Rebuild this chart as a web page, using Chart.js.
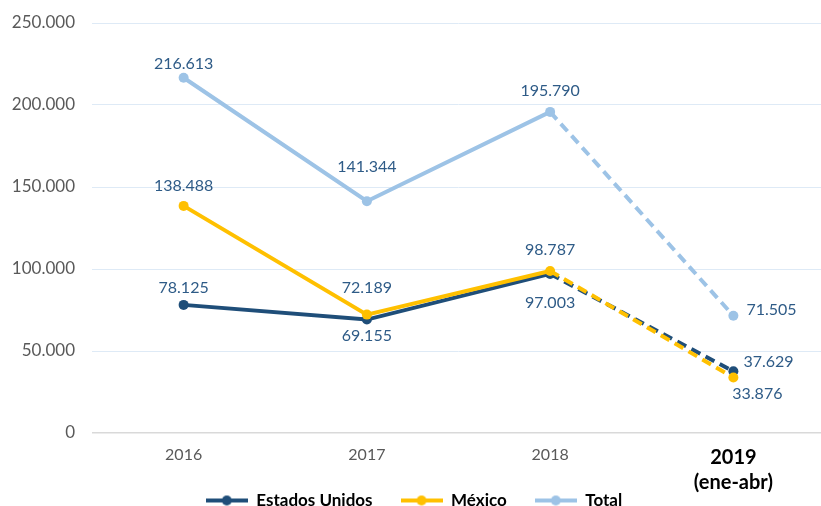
<!DOCTYPE html>
<html>
<head>
<meta charset="utf-8">
<script src="https://cdn.jsdelivr.net/npm/chart.js@4"></script>
<style>
  html, body { margin: 0; padding: 0; background: #fff; overflow: hidden; }
  #wrap { width: 830px; height: 506px; position: relative; }
</style>
</head>
<body>
<div id="wrap"><canvas id="c"></canvas></div>
<script>
// ---- data ----
const years = ['2016', '2017', '2018', ['2019', '(ene-abr)']];
const estadosUnidos = [78125, 69155, 97003, 37629];
const mexico = [138488, 72189, 98787, 33876];
const total = [216613, 141344, 195790, 71505];
const yTicks = [0, 50000, 100000, 150000, 200000, 250000];
const seriesNames = ['Estados Unidos', 'México', 'Total'];

// ---- styling ----
const colors = ['#1f4e79', '#ffc000', '#9dc3e6'];
const drawOrder = [1, 0, 2];
const labelOffsets = [
  [[0, -17, 'center'], [0, 16, 'center'], [0, 29, 'center'], [10, -9, 'left']],
  [[0, -20, 'center'], [0, -27, 'center'], [0, -21, 'center'], [24, 16, 'center']],
  [[0, -14, 'center'], [0, -34, 'center'], [0, -21, 'center'], [13, -6, 'left']]
];
const FONT = 'Lato, "Open Sans", sans-serif';

const fmt = v => String(Math.round(v)).replace(/\B(?=(\d{3})+(?!\d))/g, '.');

function legendIcon(color) {
  const c = document.createElement('canvas');
  c.width = 42; c.height = 12;
  const x = c.getContext('2d');
  x.strokeStyle = color; x.lineWidth = 4; x.lineCap = 'butt';
  x.beginPath(); x.moveTo(0, 6); x.lineTo(42, 6); x.stroke();
  x.fillStyle = color;
  x.beginPath(); x.arc(21, 6, 5, 0, Math.PI * 2); x.fill();
  return c;
}
const icons = colors.map(legendIcon);

const valueLabels = {
  id: 'valueLabels',
  afterDatasetsDraw(chart) {
    const ctx = chart.ctx;
    ctx.save();
    ctx.font = '16px ' + FONT;
    ctx.fillStyle = '#2e5b87';
    ctx.textBaseline = 'middle';
    chart.data.datasets.forEach((ds, di) => {
      const meta = chart.getDatasetMeta(di);
      meta.data.forEach((pt, i) => {
        const [dx, dy, align] = labelOffsets[di][i];
        ctx.textAlign = align;
        ctx.fillText(fmt(ds.data[i]), pt.x + dx, pt.y + dy);
      });
    });
    ctx.restore();
  }
};

const dashed = ctx => ctx.p0DataIndex === 2 ? [10, 6] : undefined;
const makeDs = (label, data, color, order) => ({
  label, data, order,
  borderColor: color, backgroundColor: color,
  borderWidth: 4, pointRadius: 5, pointHoverRadius: 5,
  pointBackgroundColor: color, pointBorderWidth: 0,
  tension: 0,
  segment: { borderDash: dashed }
});

new Chart(document.getElementById('c'), {
  type: 'line',
  data: {
    labels: years,
    datasets: [
      makeDs(seriesNames[0], estadosUnidos, colors[0], drawOrder[0]),
      makeDs(seriesNames[1], mexico, colors[1], drawOrder[1]),
      makeDs(seriesNames[2], total, colors[2], drawOrder[2])
    ]
  },
  options: {
    responsive: true,
    maintainAspectRatio: false,
    animation: false,
    layout: { padding: { top: 23, right: 2, left: 0, bottom: -13 } },
    plugins: {
      tooltip: { enabled: false },
      legend: {
        position: 'bottom',
        labels: {
          usePointStyle: true,
          pointStyleWidth: 42,
          padding: 28,
          color: '#000',
          font: { family: FONT, size: 17, weight: 'bold' },
          generateLabels(chart) {
            const items = Chart.defaults.plugins.legend.labels.generateLabels(chart);
            items.sort((a, b) => a.datasetIndex - b.datasetIndex);
            items.forEach(it => { it.pointStyle = icons[it.datasetIndex]; it.lineWidth = 0; });
            return items;
          }
        }
      }
    },
    scales: {
      x: {
        offset: true,
        grid: { display: false, drawTicks: false },
        border: { display: false },
        ticks: {
          padding: 12,
          color: ctx => ctx.index === 3 ? '#000' : '#595959',
          font: ctx => ctx.index === 3
            ? { family: FONT, size: 20, weight: 'bold', lineHeight: 1.25 }
            : { family: FONT, size: 16 }
        },
        afterFit(scale) {
          scale.height = 31;
          // let the two-line 2019 label extend past the shortened axis box
          scale._computeLabelArea = () => undefined;
        }
      },
      y: {
        min: 0, max: 250000,
        afterBuildTicks(scale) { scale.ticks = yTicks.map(v => ({ value: v })); },
        grid: {
          drawTicks: false,
          color: ctx => ctx.tick && ctx.tick.value === 0 ? '#d9d9d9' : '#deeaf6',
          lineWidth: ctx => ctx.tick && ctx.tick.value === 0 ? 1.5 : 1
        },
        border: { display: false },
        ticks: {
          padding: 17,
          color: '#595959',
          font: { family: FONT, size: 17 },
          callback: v => fmt(v)
        },
        afterFit(scale) {
          scale.width = 92;
          scale.paddingTop = 0;
          scale.paddingBottom = 0;
        }
      }
    }
  },
  plugins: [valueLabels]
});
</script>
</body>
</html>
